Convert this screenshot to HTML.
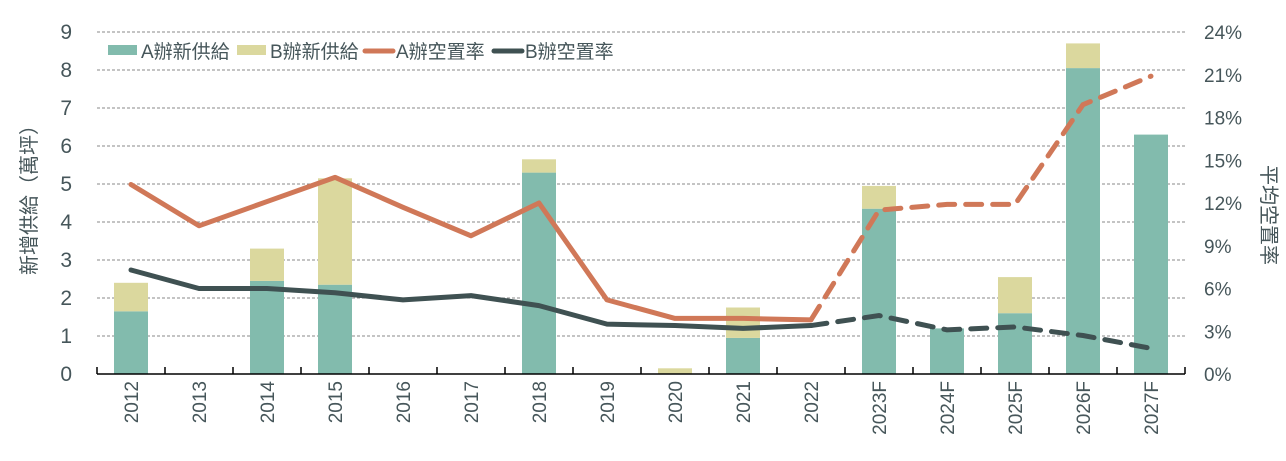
<!DOCTYPE html>
<html><head><meta charset="utf-8"><style>
body{margin:0;background:#fff;}
svg{font-family:"Liberation Sans","Noto Sans CJK TC",sans-serif;}
</style></head><body>
<svg id="c" width="1286" height="456"></svg>
<script>
const categories=["2012","2013","2014","2015","2016","2017","2018","2019","2020","2021","2022","2023F","2024F","2025F","2026F","2027F"];
const supplyA=[1.65,0,2.45,2.35,0,0,5.3,0,0,0.95,0,4.35,1.2,1.6,8.05,6.3];
const supplyB=[0.75,0,0.85,2.8,0,0,0.35,0,0.15,0.8,0,0.6,0,0.95,0.65,0];
const vacA=[13.3,10.4,12.1,13.8,11.7,9.7,12.0,5.2,3.9,3.9,3.8,11.5,11.9,11.9,18.9,20.9];
const vacB=[7.3,6.0,6.0,5.7,5.2,5.5,4.8,3.5,3.4,3.2,3.4,4.1,3.1,3.3,2.7,1.8];
const leftTicks=[0,1,2,3,4,5,6,7,8,9];
const rightTicks=["0%","3%","6%","9%","12%","15%","18%","21%","24%"];
const forecastStart=10;
const svg=document.getElementById('c');const NS='http://www.w3.org/2000/svg';
function el(t,a,p){const e=document.createElementNS(NS,t);for(const k in a)e.setAttribute(k,a[k]);(p||svg).appendChild(e);return e;}
const X0=97,X1=1185,Y0=374,Y1=32,bw=(X1-X0)/categories.length;
const y=v=>Y0-(v/9)*(Y0-Y1);
const yr=v=>Y0-(v/24)*(Y0-Y1);
const xc=i=>X0+bw*(i+0.5);
const txt='#46565a';
leftTicks.forEach(v=>{
 if(v>0){const g=el('line',{x1:X0,x2:X1,y1:y(v),y2:y(v),stroke:'#888','stroke-dasharray':'3,2','stroke-width':1});}
 const t=el('text',{x:72,y:y(v)+7,'text-anchor':'end','font-size':21,fill:txt});t.textContent=v;
 
});
rightTicks.forEach((s,i)=>{const t=el('text',{x:1204,y:yr(i*3)+7,'font-size':19,fill:txt});t.textContent=s;
 });
categories.forEach((c,i)=>{
 const x=xc(i);
 const a=el('rect',{x:x-17,y:y(supplyA[i]),width:34,height:Y0-y(supplyA[i]),fill:'#82bbad'});
 
 const b=el('rect',{x:x-17,y:y(supplyA[i]+supplyB[i]),width:34,height:y(supplyA[i])-y(supplyA[i]+supplyB[i]),fill:'#dbd89e'});
 
 const t=el('text',{transform:`translate(${x+7},381) rotate(-90)`,'text-anchor':'end','font-size':19,fill:txt});t.textContent=c;
 
});
const ax=el('line',{x1:X0,x2:X1,y1:Y0,y2:Y0,stroke:'#000','stroke-width':1.5});

for(let i=0;i<=categories.length;i++){const t=el('line',{x1:X0+bw*i,x2:X0+bw*i,y1:Y0-7,y2:Y0,stroke:'#000','stroke-width':1.5});}
function line(vals,col,name){
 const p1=vals.slice(0,forecastStart+1).map((v,i)=>xc(i)+','+yr(v)).join(' ');
 const p2=vals.slice(forecastStart).map((v,i)=>xc(i+forecastStart)+','+yr(v)).join(' ');
 const a=el('polyline',{points:p1,fill:'none',stroke:col,'stroke-width':5,'stroke-linejoin':'round','stroke-linecap':'round'});
 
 const b=el('polyline',{points:p2,fill:'none',stroke:col,'stroke-width':5,'stroke-dasharray':'16,11','stroke-linecap':'round'});
 
}
line(vacA,'#d07858','line-a-vacancy');
line(vacB,'#3f5152','line-b-vacancy');
const lg=el('g',{});
[[108,'rect','#82bbad','A辦新供給'],[237,'rect','#dbd89e','B辦新供給'],[363,'line','#d07858','A辦空置率'],[492,'line','#3f5152','B辦空置率']].forEach(([x,k,c,s])=>{
 if(k=='rect')el('rect',{x:x,y:45,width:29,height:10,fill:c},lg);
 else el('line',{x1:x+2,x2:x+30,y1:51,y2:51,stroke:c,'stroke-width':5,'stroke-linecap':'round'},lg);
 const t=el('text',{x:x+33,y:58,'font-size':19,fill:txt},lg);t.textContent=s;
});
const yl=el('text',{transform:'translate(36,195) rotate(-90)','text-anchor':'middle','font-size':20,fill:txt});yl.textContent='新增供給（萬坪）';

const yr2=el('text',{transform:'translate(1262,215) rotate(90)','text-anchor':'middle','font-size':20,fill:txt});yr2.textContent='平均空置率';

</script>
</body></html>
